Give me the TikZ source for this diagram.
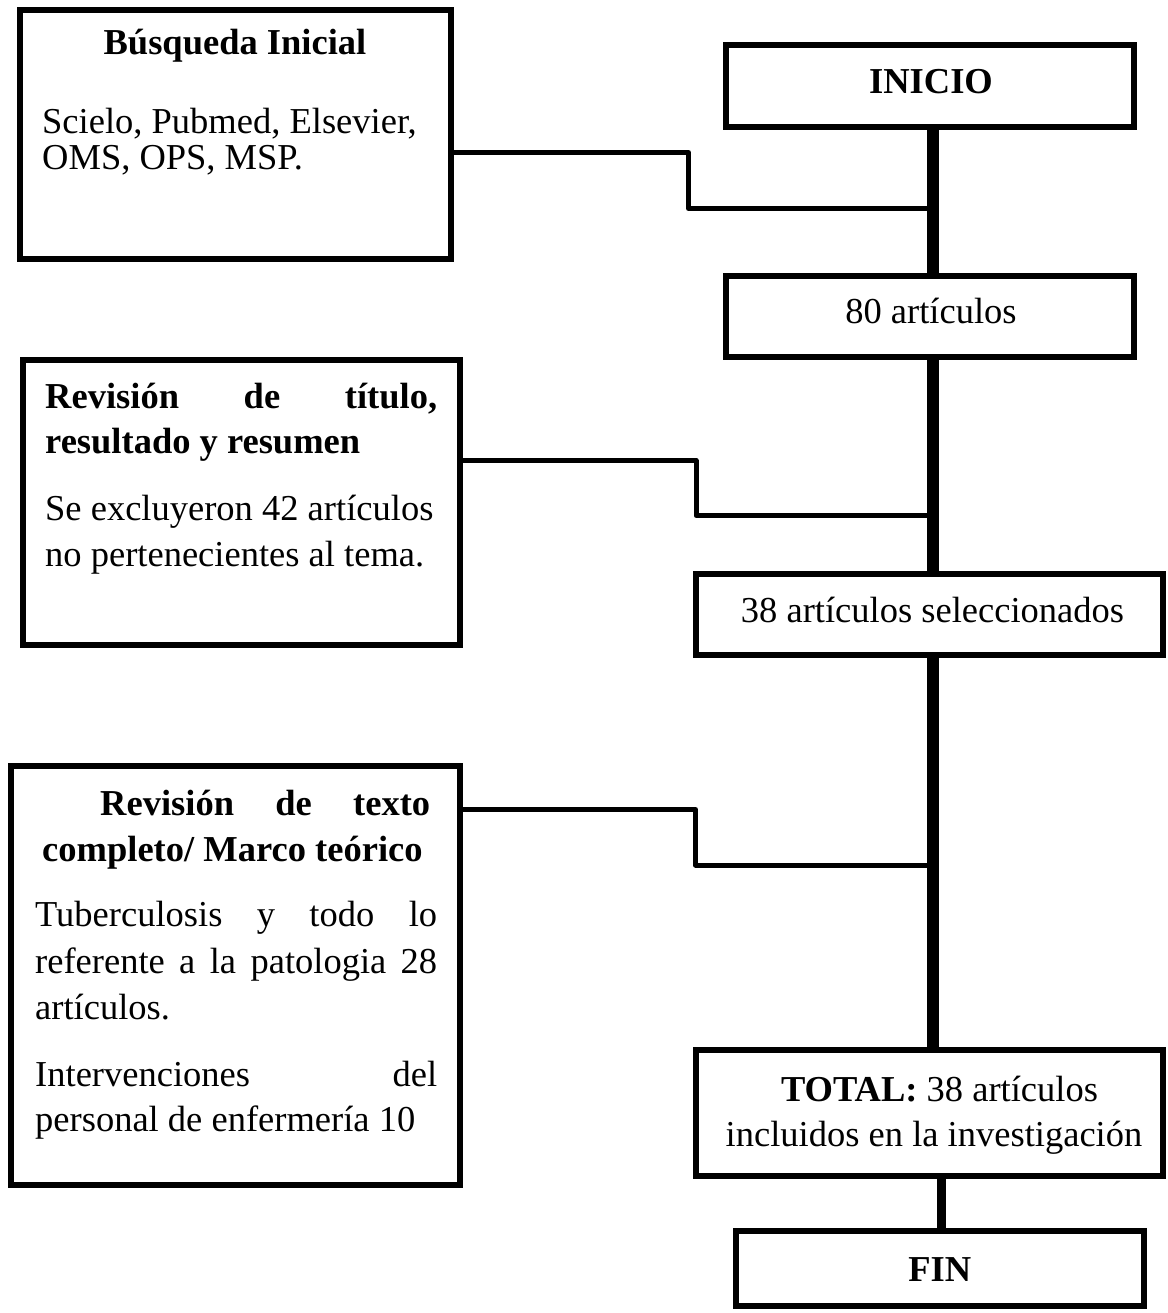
\documentclass[tikz,border=0pt]{standalone}
\usepackage{fontspec}
\setmainfont{Liberation Serif}
\begin{document}
\begin{tikzpicture}[x=1pt,y=-1pt,
  box/.style={draw, line width=6pt, rectangle, inner sep=0pt},
  txt/.style={inner sep=0pt, font=\fontsize{36.5}{40}\selectfont},
  conn/.style={line width=5pt, line join=round},
  spineline/.style={line width=12pt},
  endline/.style={line width=9pt}
]
\fill[white] (0,0) rectangle (1167,1313);
\useasboundingbox (0,0) rectangle (1167,1313);

% ---- boxes
\node[box, minimum width=431pt, minimum height=249pt] (A) at (235.5,134.5) {};
\node[box, minimum width=408pt, minimum height=82pt] (I) at (930,86) {};
\node[box, minimum width=408pt, minimum height=81pt] (N80) at (930,316.5) {};
\node[box, minimum width=437pt, minimum height=285pt] (B) at (241.5,502.5) {};
\node[box, minimum width=467pt, minimum height=81pt] (C) at (929.5,614.5) {};
\node[box, minimum width=449pt, minimum height=419pt] (F) at (235.5,975.5) {};
\node[box, minimum width=467pt, minimum height=126pt] (D) at (929.5,1112.5) {};
\node[box, minimum width=408pt, minimum height=75pt] (E) at (940,1268.5) {};

% ---- texts
\node[txt, anchor=base] (A1) at (235,55) {\textbf{Búsqueda Inicial}};
\node[txt, anchor=base west] (A2) at (42,133.5) {Scielo, Pubmed, Elsevier,};
\node[txt, anchor=base west] (A3) at (42,169.5) {OMS, OPS, MSP.};

\node[txt, anchor=base] (I1) at (931,94) {\textbf{INICIO}};
\node[txt, anchor=base] (N1) at (931,323.5) {80 artículos};

\node[txt, anchor=base west] (B1) at (45,408) {\makebox[392pt][s]{\bfseries Revisión de título,}};
\node[txt, anchor=base west] (B2) at (45,453.5) {\textbf{resultado y resumen}};
\node[txt, anchor=base west] (B3) at (45,520.5) {Se excluyeron 42 artículos};
\node[txt, anchor=base west] (B4) at (45,566) {no pertenecientes al tema.};

\node[txt, anchor=base] (C1) at (932.5,622.7) {38 artículos seleccionados};

\node[txt, anchor=base west] (F1) at (100,815) {\makebox[330pt][s]{\bfseries Revisión de texto}};
\node[txt, anchor=base west] (F2) at (42,861.7) {\textbf{completo/ Marco teórico}};
\node[txt, anchor=base west] (F3) at (35,926.7) {\makebox[402pt][s]{Tuberculosis y todo lo}};
\node[txt, anchor=base west] (F4) at (35,973.3) {\makebox[402pt][s]{referente a la patologia 28}};
\node[txt, anchor=base west] (F5) at (35,1019) {artículos.};
\node[txt, anchor=base west] (F6) at (35,1086.7) {\makebox[402pt][s]{Intervenciones del}};
\node[txt, anchor=base west] (F7) at (35,1131.7) {personal de enfermería 10};

\node[txt, anchor=base] (D1) at (939.5,1101.7) {\textbf{TOTAL:} 38 artículos};
\node[txt, anchor=base] (D2) at (934,1146.7) {incluidos en la investigación};

\node[txt, anchor=base] (E1) at (939.7,1281) {\textbf{FIN}};

% ---- side connectors
\coordinate (j1) at (933,208.5);
\coordinate (j2) at (933,515.5);
\coordinate (j3) at (933,865);
\draw[conn] ([yshift=-18pt]A.east) -| (688.5,208.5) -- (j1);
\draw[conn] ([yshift=42pt]B.east) -| (696,515.5) -- (j2);
\draw[conn] ([yshift=166pt]F.east) -| (695.5,865) -- (j3);

% ---- spine
\coordinate (sp) at (933,0);
\coordinate (sp2) at (941.5,0);
\draw[spineline] (sp |- I.south) -- (sp |- N80.north);
\draw[spineline] (sp |- N80.south) -- (sp |- C.north);
\draw[spineline] (sp |- C.south) -- (sp |- D.north);
\draw[endline] (sp2 |- D.south) -- (sp2 |- E.north);
\end{tikzpicture}
\end{document}
